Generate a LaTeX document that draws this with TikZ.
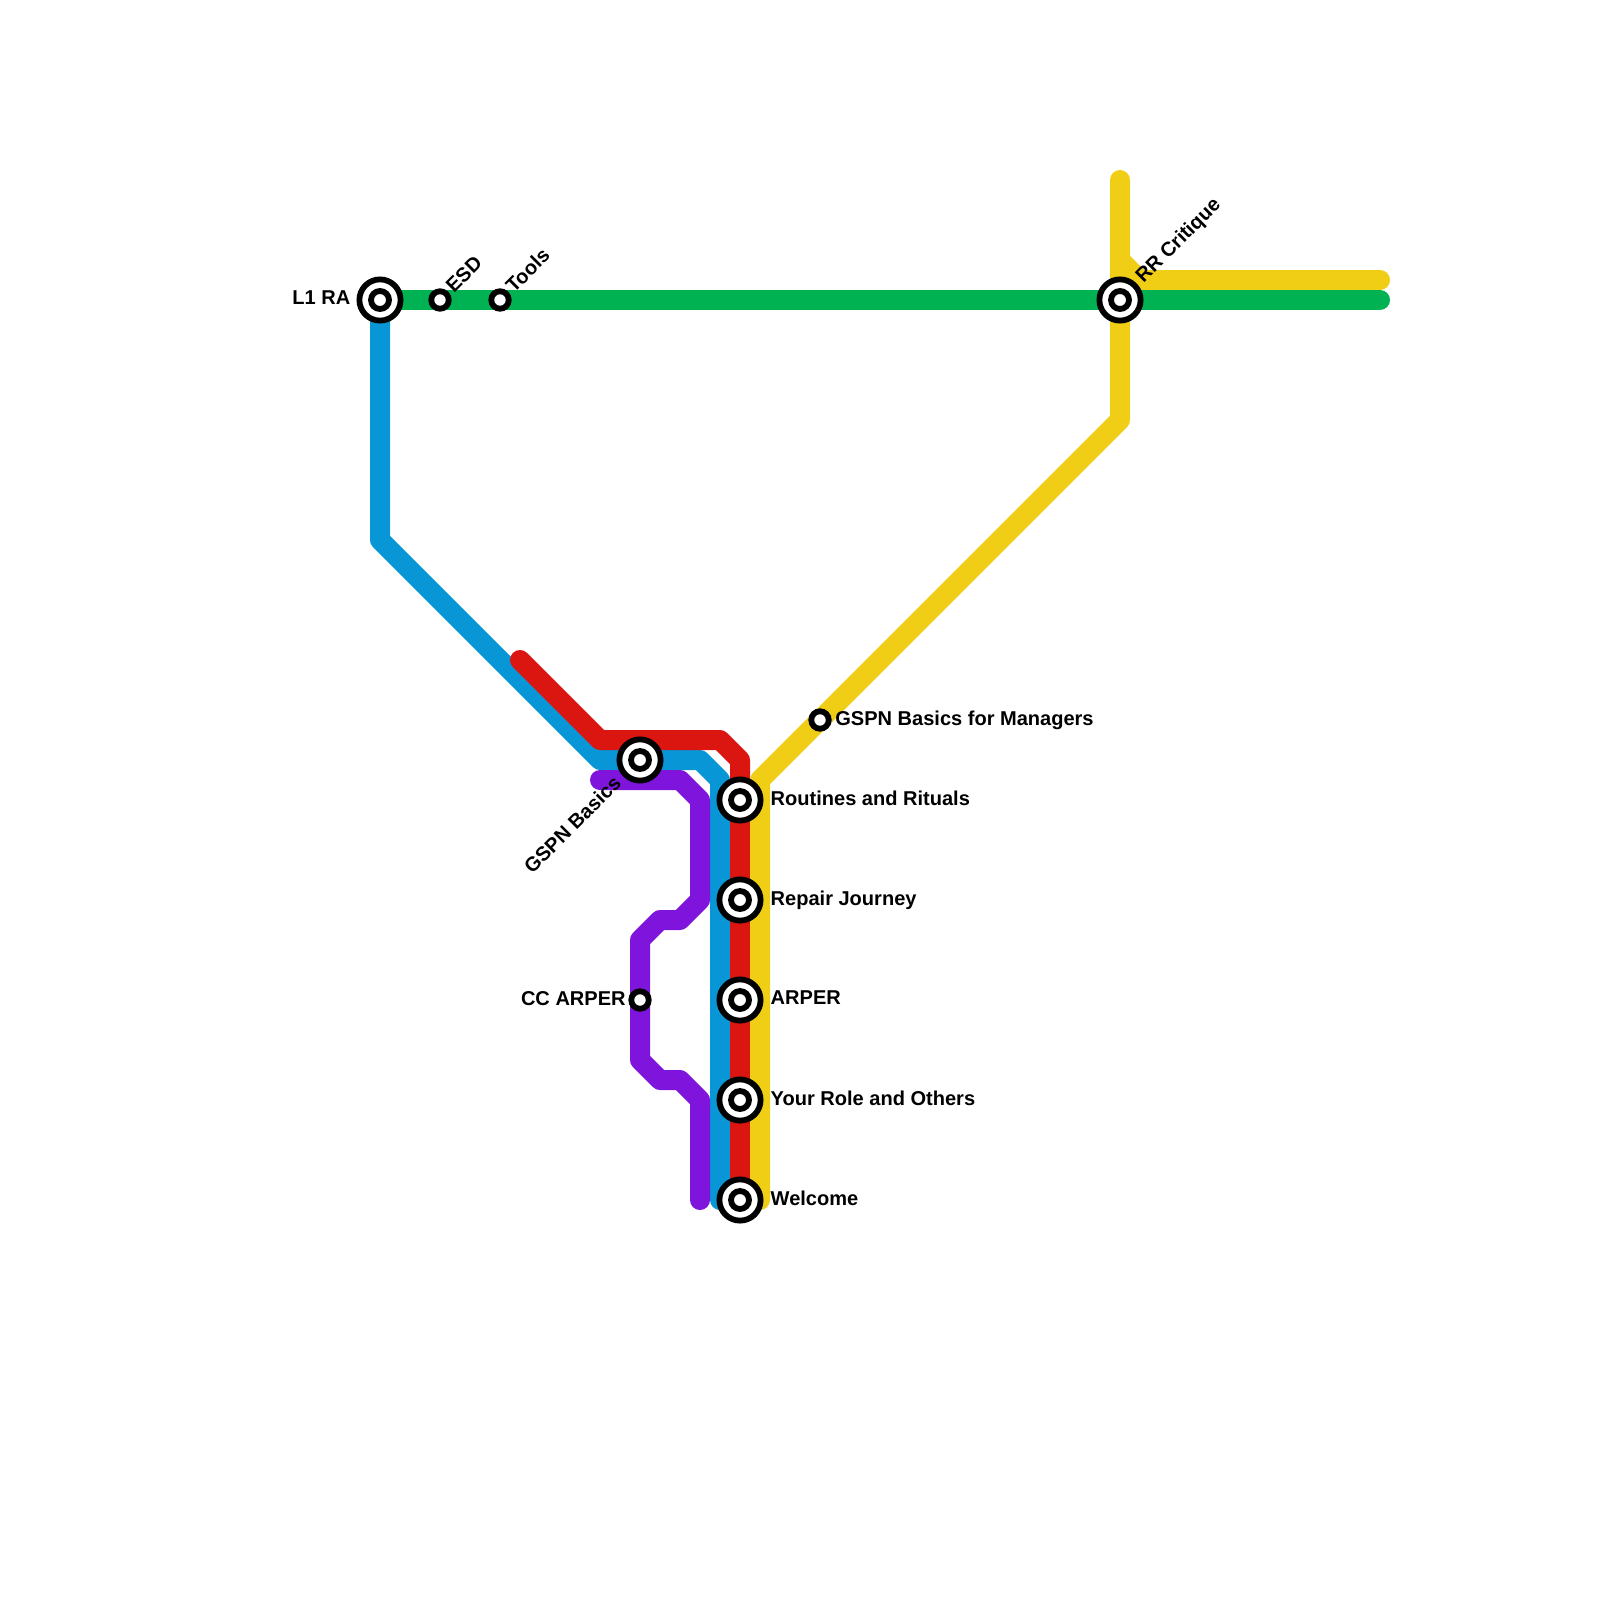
\documentclass[tikz,border=0pt]{standalone}
\usepackage{fontspec}
\setmainfont{Liberation Sans}
\usetikzlibrary{positioning,backgrounds}

\definecolor{linegreen}{HTML}{00B251}
\definecolor{lineblue}{HTML}{0896D7}
\definecolor{linered}{HTML}{DB1610}
\definecolor{lineyellow}{HTML}{F0CE15}
\definecolor{linepurple}{HTML}{7F14DC}

\tikzset{
  route/.style={line width=2mm, line cap=round, line join=round},
  hub/.style={circle, draw=black, fill=white, line width=0.58mm, minimum size=4.12mm, inner sep=0pt,
    path picture={\draw[black, line width=0.58mm] (path picture bounding box.center) circle (0.9mm);}},
  stop/.style={circle, draw=black, fill=white, line width=0.58mm, minimum size=1.75mm, inner sep=0pt},
  stationname/.style={font=\fontsize{5.7pt}{7pt}\selectfont\bfseries, inner sep=0pt, text depth=0pt, yshift=0.2mm}
}

\begin{document}
\begin{tikzpicture}[x=1mm, y=-1mm]
    \useasboundingbox (0,0) rectangle (160,160);

    \node[hub] (lra) at (38,30) {};
    \node[stop] (esd) at (44,30) {};
    \node[stop] (tools) at (50,30) {};
    \node[hub] (critique) at (112,30) {};
    \node[stop] (managers) at (82,72) {};
    \node[hub] (basics) at (64,76) {};
    \node[stop] (ccarper) at (64,100) {};
    \node[hub] (routines) at (74,80) {};
    \node[hub] (journey) at (74,90) {};
    \node[hub] (arper) at (74,100) {};
    \node[hub] (role) at (74,110) {};
    \node[hub] (welcome) at (74,120) {};

    \coordinate (greenend) at (138,30);
    \coordinate (yellowtop) at (112,18);
    \coordinate (yellowend) at (138,28);
    \coordinate (yellowfoot) at (76,120);
    \coordinate (bluefoot) at (72,120);
    \coordinate (redtop) at (52,66);
    \coordinate (purplestart) at (60,78);
    \coordinate (purplefoot) at (70,120);

    \begin{scope}[on background layer]
      \draw[route, lineblue] (lra.center) -- (38,54) -- (60,76) -- (basics.center) -- (70,76) -- (72,78) -- (bluefoot);
      \draw[route, linered] (redtop) -- (60,74) -- (72,74) -- (74,76) -- (routines.center) -- (journey.center) -- (arper.center) -- (role.center) -- (welcome.center);
      \draw[route, lineyellow] (yellowtop) -- (critique.center) -- (112,42) -- (managers.center) -- (76,78) -- (yellowfoot);
      \draw[route, lineyellow] (112,26) -- (114,28) -- (yellowend);
      \draw[route, linegreen] (lra.center) -- (esd.center) -- (tools.center) -- (critique.center) -- (greenend);
      \draw[route, linepurple] (purplestart) -- (68,78) -- (70,80) -- (70,90) -- (68,92) -- (66,92) -- (64,94) -- (ccarper.center) -- (64,106) -- (66,108) -- (68,108) -- (70,110) -- (purplefoot);
    \end{scope}

    \node[stationname, left=0.55 of lra] (lralabel) {L1 RA};
    \node[stationname, rotate=45, above right=0.5 and 0.6 of esd] (esdlabel) {ESD};
    \node[stationname, rotate=45, above right=0.5 and 0.6 of tools] (toolslabel) {Tools};
    \node[stationname, rotate=45, above right=0.35 and 0.7 of critique] (critiquelabel) {RR Critique};
    \node[stationname, right=0.3 of managers] (managerslabel) {GSPN Basics for Managers};
    \node[stationname, rotate=45, below left=0.1 and 1.15 of basics] (basicslabel) {GSPN Basics};
    \node[stationname, left=0.2 of ccarper] (ccarperlabel) {CC ARPER};
    \node[stationname, right=0.65 of routines] (routineslabel) {Routines and Rituals};
    \node[stationname, right=0.65 of journey] (journeylabel) {Repair Journey};
    \node[stationname, right=0.65 of arper] (arperlabel) {ARPER};
    \node[stationname, right=0.65 of role] (rolelabel) {Your Role and Others};
    \node[stationname, right=0.65 of welcome] (welcomelabel) {Welcome};
\end{tikzpicture}
\end{document}
